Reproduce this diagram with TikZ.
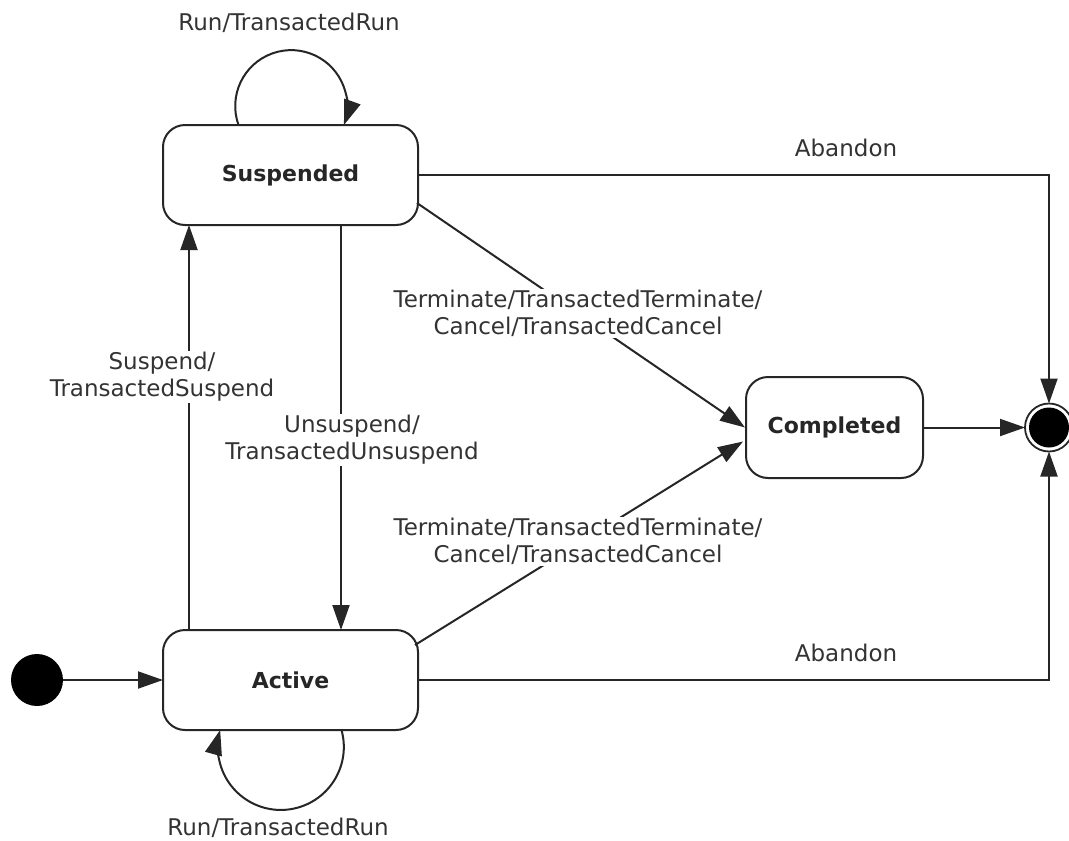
\documentclass[tikz,border=0pt]{standalone}
\usepackage{fontspec}
\setmainfont{DejaVu Sans}
\usetikzlibrary{arrows.meta}
\definecolor{lc}{HTML}{262626}
\definecolor{tc}{HTML}{333333}
\begin{document}
\begin{tikzpicture}[x=1pt,y=1pt,
  font=\fontsize{23}{27}\selectfont,
  statebox/.style={draw=lc, line width=2pt, rounded corners=22pt, inner sep=0pt, outer sep=0pt,
    font=\fontsize{22}{27}\selectfont\bfseries, text=lc},
  conn/.style={draw=lc, line width=2pt, -{Triangle[length=25pt,width=17pt]}},
  lbl/.style={fill=white, text=tc, align=center, inner sep=1pt}
]
\useasboundingbox (0,0) rectangle (1069,-841);

% states
\node[statebox, minimum width=255pt, minimum height=100pt] (susp) at (290.5,-175) {Suspended};
\node[statebox, minimum width=255pt, minimum height=100pt] (act) at (290.5,-680) {Active};
\node[statebox, minimum width=177pt, minimum height=101pt] (comp) at (834.5,-427.5) {Completed};
\node[circle, fill=black, minimum size=52pt, inner sep=0pt, outer sep=0pt] (init) at (37,-680) {};
\node[circle, draw=lc, line width=1.8pt, minimum size=48pt, inner sep=0pt, outer sep=0pt,
  path picture={\fill[black] (path picture bounding box.center) circle[radius=20pt];}] (fin) at (1049,-427.5) {};

% connectors
\draw[conn] (init.east) -- (act.west);
\draw[conn] ([xshift=-101.5pt]act.north) -- ([xshift=-101.5pt]susp.south);
\draw[conn] ([xshift=50.5pt]susp.south) -- ([xshift=50.5pt]act.north);
\draw[conn] (susp.east) -| (fin.north);
\draw[conn] (act.east) -| (fin.south);
\draw[conn] (comp.east) -- (fin.west);
\draw[conn] ([shift={(-1pt,-28pt)}]susp.east) -- ([xshift=-1pt]comp.west);
\draw[conn] ([shift={(-3pt,35pt)}]act.east) -- ([shift={(-3pt,-14pt)}]comp.west);
\draw[conn] ([xshift=-52pt]susp.north) arc[start angle=199.7, end angle=-19.7, radius=56pt];
\draw[conn] ([xshift=51pt]act.south) arc[start angle=15.6, end angle=-195.6, radius=63pt];

% labels
\node[lbl] (lrun1) at (289,-23) {Run/TransactedRun};
\node[lbl] (lrun2) at (278,-828) {Run/TransactedRun};
\node[lbl] (lab1) at (846,-148) {Abandon};
\node[lbl] (lab2) at (846,-653) {Abandon};
\node[lbl] (lsus) at (162,-377) {Suspend/\\TransactedSuspend};
\node[lbl] (luns) at (352,-440) {Unsuspend/\\TransactedUnsuspend};
\node[lbl] (lter1) at (578,-313.5) {Terminate/TransactedTerminate/\\Cancel/TransactedCancel};
\node[lbl] (lter2) at (578,-541.5) {Terminate/TransactedTerminate/\\Cancel/TransactedCancel};
\end{tikzpicture}
\end{document}
